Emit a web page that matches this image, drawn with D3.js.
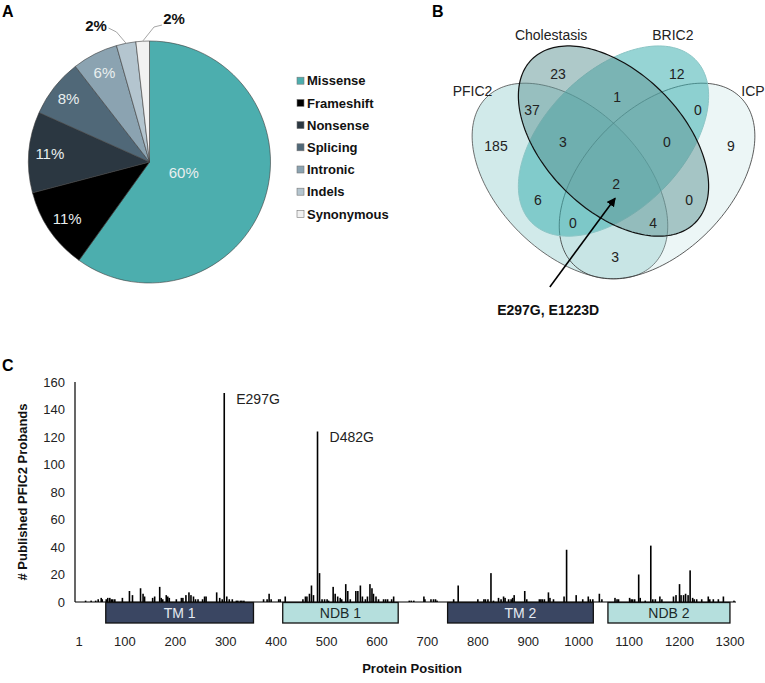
<!DOCTYPE html>
<html><head><meta charset="utf-8">
<script src="https://cdn.jsdelivr.net/npm/d3@7"></script>
<style>body{margin:0;background:#fff} svg{display:block} text{font-family:"Liberation Sans",Arial,sans-serif}</style>
</head><body><svg id="c" width="765" height="683"></svg>
<script>
// ---------- Panel A data ----------
const mutationTypes = ["Missense","Frameshift","Nonsense","Splicing","Intronic","Indels","Synonymous"];
const mutationShares = [59.9, 11.0, 10.8, 7.8, 6.1, 2.6, 1.8];
const mutationLabels = ["60%","11%","11%","8%","6%","2%","2%"];
const mutationColors = ["#4caeae","#000000","#2b3741","#506878","#8ba3b1","#b4c5cf","#f1f1f1"];

// ---------- Panel B data ----------
const vennSets = ["PFIC2","Cholestasis","BRIC2","ICP"];
const vennRegions = ["P","C","B","I","PC","CB","BI","PCB","CBI","PCBI","PB","CI","PBI","PCI","PI"];
const vennCounts  = [185, 23, 12, 9, 37, 1, 0, 3, 0, 2, 6, 0, 0, 4, 3];

// ---------- Panel C data ----------
const positions = [22,33,42,47,53,55,63,66,70,73,76,80,95,109,115,131,136,139,155,159,169,172,175,182,185,188,202,212,215,221,227,231,236,240,245,254,258,261,282,288,293,297,302,307,313,321,324,
329,332,336,375,382,386,390,405,408,418,453,458,461,466,470,474,482,486,491,496,501,504,513,517,522,527,530,538,542,547,558,562,567,571,577,581,586,590,593,598,603,613,617,621,629,633,
664,668,673,693,695,707,712,716,719,752,761,800,812,815,820,826,831,841,846,851,854,861,866,869,872,893,897,922,925,928,932,940,943,950,971,976,
995,1008,1019,1023,1028,1041,1046,1072,1076,1079,1101,1104,1107,1111,1119,1122,1132,1143,1147,1152,1161,1165,1188,1193,1200,1203,1208,1212,1217,1221,1226,1229,1234,1244,1257,1260,1267,1277,1287,1308];
const probands = [1,1,1,2,3,2,2,3,3,2,2,2,3,8,5,10,6,4,3,4,11,3,2,5,4,3,2,3,3,5,7,5,4,2,2,2,4,4,7,3,2,152,4,2,2,1,1,
1,1,1,2,2,6,2,2,2,4,2,4,4,6,12,5,124,21,2,2,2,1,11,6,4,3,2,13,8,2,8,8,12,4,2,4,13,10,6,4,2,2,2,2,2,4,
1,1,1,4,2,2,2,2,1,2,12,2,2,2,2,21,1,3,2,4,3,2,2,3,5,8,2,2,2,2,2,7,3,2,4,38,
5,2,4,2,2,6,2,3,2,2,3,2,2,2,20,3,1,41,2,2,4,2,4,5,13,5,5,6,5,23,3,2,2,2,4,2,2,2,4,1];
const annotatedVariants = ["E297G","D482G"];
const annotatedPositions = [297, 482];
const domainNames = ["TM 1","NDB 1","TM 2","NDB 2"];
const domainStarts = [62, 413, 740, 1058];
const domainEnds = [355, 642, 1029, 1300];
const xTicks = [1,100,200,300,400,500,600,700,800,900,1000,1100,1200,1300];
const yTicks = [0,20,40,60,80,100,120,140,160];

const svg = d3.select("#c");

// panel letters
svg.append("text").attr("x",2).attr("y",17).attr("font-size",16).attr("font-weight","bold").text("A");
svg.append("text").attr("x",432).attr("y",17).attr("font-size",16).attr("font-weight","bold").text("B");
svg.append("text").attr("x",2).attr("y",371).attr("font-size",16).attr("font-weight","bold").text("C");

// ================= Panel A: pie =================
const pieData = mutationTypes.map((t,i)=>({t, v:mutationShares[i], l:mutationLabels[i], c:mutationColors[i]}));
const R = 121;
const pieG = svg.append("g").attr("transform","translate(149.5,162)");
const arcs = d3.pie().sort(null).value(d=>d.v)(pieData);
const arc = d3.arc().innerRadius(0).outerRadius(R);
pieG.selectAll("path.slice").data(arcs).join("path").attr("class","slice")
  .attr("d",arc).attr("fill",d=>d.data.c).attr("stroke","#3c3c3c").attr("stroke-width",0.6);
arcs.forEach((d,i)=>{
  if(i<5){
    const r = i===0 ? 36 : (i===3 ? 103 : 100);
    const [cx,cy] = d3.arc().innerRadius(r).outerRadius(r).centroid(d);
    pieG.append("text").attr("x",cx).attr("y",cy).attr("dy","0.35em").attr("text-anchor","middle")
      .attr("font-size",15).attr("fill","#e9efef").text(d.data.l);
  }
});
const outside = [
  {i:5, elbow:[-33,-130], end:[-41,-134], lab:[-53.5,-136.7]},
  {i:6, elbow:[4.5,-135], end:[12.5,-137], lab:[24.5,-143.7]}
];
outside.forEach(o=>{
  const d = arcs[o.i];
  const [sx,sy] = d3.arc().innerRadius(R).outerRadius(R).centroid(d);
  pieG.append("polyline").attr("points",[[sx,sy],o.elbow,o.end].map(p=>p.join(",")).join(" "))
    .attr("fill","none").attr("stroke","#a6a6a6").attr("stroke-width",1);
  pieG.append("text").attr("x",o.lab[0]).attr("y",o.lab[1]).attr("dy","0.35em").attr("text-anchor","middle")
    .attr("font-size",15).attr("font-weight","bold").attr("fill","#111").text(d.data.l);
});
const lg = svg.append("g").attr("transform","translate(297,80.7)");
pieData.forEach((d,i)=>{
  const g = lg.append("g").attr("transform",`translate(0,${i*22.2})`);
  g.append("rect").attr("x",0).attr("y",-3.5).attr("width",7).attr("height",7)
    .attr("fill",d.c).attr("stroke","#777").attr("stroke-width",0.6);
  g.append("text").attr("x",10).attr("y",0).attr("dy","0.36em").attr("font-size",13).attr("font-weight","bold")
    .attr("fill","#111").text(d.t);
});

// ================= Panel B: Venn =================
const vx = d3.scaleLinear().domain([0,1]).range([448.5, 778.5]);
const vy = d3.scaleLinear().domain([0,1]).range([346, 16]);
const ellipses = [
  {name:"PFIC2",       cx:0.368, cy:0.500, a:0.358, b:0.218, rot:135, fill:"#5bb5b5", op:0.28, stroke:"#4a4a4a", sw:0.8},
  {name:"ICP",         cx:0.632, cy:0.500, a:0.358, b:0.218, rot:45,  fill:"#a8d8d8", op:0.22, stroke:"#333",    sw:0.8},
  {name:"BRIC2",       cx:0.500, cy:0.621, a:0.350, b:0.209, rot:45,  fill:"#3fb0b0", op:0.55, stroke:"#8cc6c6", sw:1},
  {name:"Cholestasis", cx:0.500, cy:0.621, a:0.350, b:0.209, rot:135, fill:"#5e9494", op:0.5,  stroke:"#111",    sw:1.2}
];
const eLine = d3.line().x(p=>vx(p[0])).y(p=>vy(p[1])).curve(d3.curveLinearClosed);
const vg = svg.append("g");
ellipses.forEach(e=>{
  const th = e.rot*Math.PI/180, pts=[];
  for(let k=0;k<180;k++){
    const t = k/180*2*Math.PI;
    pts.push([e.cx + e.a*Math.cos(th)*Math.cos(t) - e.b*Math.sin(th)*Math.sin(t),
              e.cy + e.a*Math.sin(th)*Math.cos(t) + e.b*Math.cos(th)*Math.sin(t)]);
  }
  vg.append("path").attr("d",eLine(pts)).attr("fill",e.fill).attr("fill-opacity",e.op)
    .attr("stroke",e.stroke).attr("stroke-width",e.sw);
});
const setLabelPos = {PFIC2:[0.073,0.773,"middle"], Cholestasis:[0.311,0.942,"middle"], BRIC2:[0.680,0.942,"middle"], ICP:[0.958,0.773,"end"]};
vennSets.forEach(s=>{
  const p = setLabelPos[s];
  vg.append("text").attr("x",vx(p[0])).attr("y",vy(p[1])).attr("dy","0.35em").attr("text-anchor",p[2])
    .attr("font-size",14).attr("fill","#222").text(s);
});
const regionPos = {P:[0.144,0.606], C:[0.332,0.824], B:[0.692,0.824], I:[0.856,0.606],
  PC:[0.253,0.715], CB:[0.511,0.755], BI:[0.756,0.715], PCB:[0.347,0.618], CBI:[0.662,0.618],
  PCBI:[0.508,0.491], PB:[0.271,0.442], CI:[0.729,0.442], PBI:[0.377,0.373], PCI:[0.620,0.373], PI:[0.505,0.270]};
vennRegions.forEach((r,i)=>{
  const p = regionPos[r];
  vg.append("text").attr("x",vx(p[0])).attr("y",vy(p[1])).attr("dy","0.35em").attr("text-anchor","middle")
    .attr("font-size",14).attr("fill","#222").text(vennCounts[i]);
});
svg.append("defs").append("marker").attr("id","ah").attr("viewBox","0 0 10 10").attr("refX",9).attr("refY",5)
  .attr("markerWidth",9).attr("markerHeight",9).attr("markerUnits","userSpaceOnUse").attr("orient","auto")
  .append("path").attr("d","M0,0 L10,5 L0,10 z").attr("fill","#000");
vg.append("line").attr("x1",vx(0.307)).attr("y1",vy(0.179)).attr("x2",vx(0.505)).attr("y2",vy(0.448))
  .attr("stroke","#000").attr("stroke-width",1.6).attr("marker-end","url(#ah)");
vg.append("text").attr("x",vx(0.302)).attr("y",vy(0.109)).attr("dy","0.35em").attr("text-anchor","middle")
  .attr("font-size",14).attr("font-weight","bold").attr("fill","#111").text("E297G, E1223D");

// ================= Panel C: bars =================
const x = d3.scaleLinear().domain([1,1312]).range([75,736]);
const y = d3.scaleLinear().domain([0,160]).range([602,382]);
const cg = svg.append("g");
cg.selectAll("rect.bar").data(positions.map((p,i)=>({p,v:probands[i]}))).join("rect").attr("class","bar")
  .attr("x",d=>x(d.p)-0.8).attr("width",1.6).attr("y",d=>y(d.v)).attr("height",d=>y(0)-y(d.v)).attr("fill","#000");
cg.append("line").attr("x1",x(1)).attr("x2",x(1)).attr("y1",y(0)).attr("y2",y(160)).attr("stroke","#000").attr("stroke-width",1.2);
cg.append("line").attr("x1",x(1)).attr("x2",x(1312)).attr("y1",y(0)).attr("y2",y(0)).attr("stroke","#000").attr("stroke-width",1.2);
cg.selectAll("text.yt").data(yTicks).join("text").attr("class","yt").attr("x",65).attr("y",d=>y(d)).attr("dy","0.35em")
  .attr("text-anchor","end").attr("font-size",13).attr("fill","#222").text(d=>d);
cg.selectAll("text.xt").data(xTicks).join("text").attr("class","xt").attr("x",d=>x(d)+(d===1?4:0)).attr("y",641).attr("dy","0.35em")
  .attr("text-anchor","middle").attr("font-size",13).attr("fill","#222").text(d=>d);
domainNames.forEach((n,i)=>{
  const tm = n.startsWith("TM");
  cg.append("rect").attr("x",x(domainStarts[i])).attr("y",602.5).attr("width",x(domainEnds[i])-x(domainStarts[i])).attr("height",20.5)
    .attr("fill",tm?"#3a4662":"#b5dfdd").attr("stroke","#111").attr("stroke-width",1.3);
  cg.append("text").attr("x",(x(domainStarts[i])+x(domainEnds[i]))/2).attr("y",613).attr("dy","0.35em")
    .attr("text-anchor","middle").attr("font-size",14).attr("fill",tm?"#e6eaf2":"#1b2a2a").text(n);
});
annotatedVariants.forEach((n,i)=>{
  const p = annotatedPositions[i], v = probands[positions.indexOf(p)];
  cg.append("text").attr("x",x(p)+12).attr("y",y(v)+6).attr("dy","0.35em").attr("font-size",14).attr("fill","#222").text(n);
});
cg.append("text").attr("x",412).attr("y",668).attr("dy","0.35em").attr("text-anchor","middle")
  .attr("font-size",13).attr("font-weight","bold").attr("fill","#111").text("Protein Position");
cg.append("text").attr("transform","translate(22,492) rotate(-90)").attr("dy","0.35em").attr("text-anchor","middle")
  .attr("font-size",13).attr("font-weight","bold").attr("fill","#111").text("# Published PFIC2 Probands");
</script></body></html>
